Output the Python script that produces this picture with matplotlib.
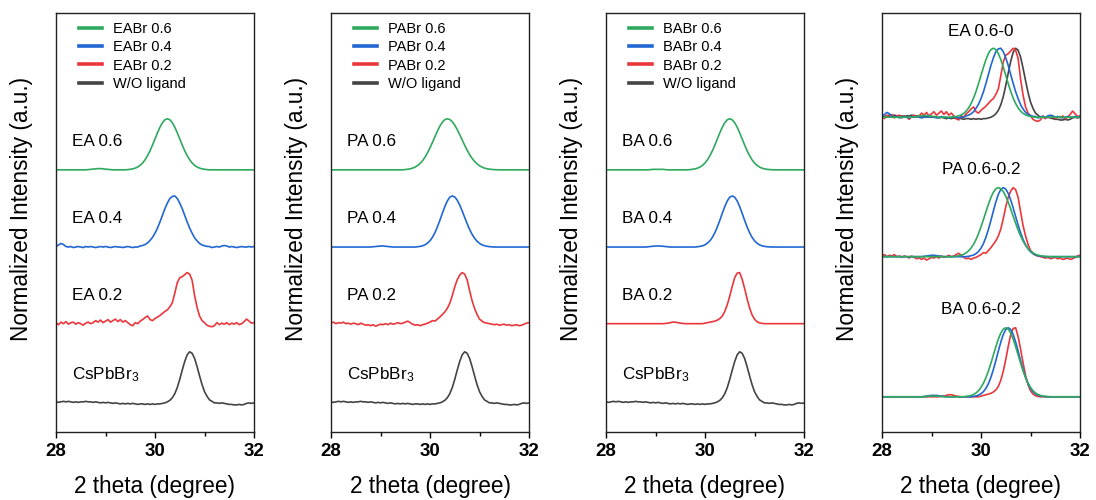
import numpy as np
import matplotlib
matplotlib.use('Agg')
import matplotlib.pyplot as plt

# 2 theta grid (degree), 0.05 step from 28 to 32
two_theta = np.round(np.arange(28.0, 32.0001, 0.05), 2)

# Normalized XRD intensities (baseline 0, peak 1)
cspbbr3 = [0.02, 0.01, 0.02, 0.03, 0.02, 0.03, 0.02, 0.01, 0.02, 0.01,
           0.02, 0.02, 0.03, 0.02, 0.02, 0.01, 0.02, 0.01, 0.00, 0.01,
           0.00, 0.01, 0.00, -0.01, 0.00, -0.01, -0.02, -0.01, -0.02, -0.01,
           -0.02, -0.01, -0.02, -0.03, -0.02, -0.02, -0.03, -0.02, -0.03, -0.02,
           -0.03, -0.02, -0.02, -0.01, 0.00, 0.02, 0.05, 0.10, 0.18, 0.30,
           0.46, 0.64, 0.81, 0.94, 1.00, 0.97, 0.87, 0.71, 0.53, 0.36,
           0.22, 0.13, 0.06, 0.03, 0.00, 0.00, -0.01, 0.00, -0.01, -0.02,
           -0.03, -0.03, -0.04, -0.04, -0.03, -0.04, -0.03, -0.01, 0.00, -0.01, 0.00]

ea_02 = [0.02, -0.02, 0.03, 0.00, 0.04, -0.01, 0.02, 0.03, -0.01, 0.02,
         0.00, -0.03, 0.01, 0.03, 0.00, 0.02, 0.06, 0.03, 0.07, 0.02,
         0.05, 0.08, 0.03, 0.06, 0.09, 0.04, 0.08, 0.03, 0.06, 0.02,
         -0.02, -0.04, 0.02, 0.00, 0.05, 0.08, 0.12, 0.15, 0.08, 0.06,
         0.10, 0.13, 0.16, 0.20, 0.24, 0.27, 0.33, 0.41, 0.60, 0.80,
         0.90, 0.92, 0.96, 1.00, 0.97, 0.85, 0.55, 0.32, 0.15, 0.06,
         0.02, -0.03, -0.05, -0.06, -0.04, 0.02, -0.02, 0.01, -0.01, 0.02,
         -0.02, 0.01, -0.01, 0.02, -0.02, 0.00, 0.04, 0.09, 0.05, 0.01, 0.02]

ea_04 = [0.01, 0.04, 0.07, 0.05, 0.01, 0.00, 0.01, -0.01, 0.00, 0.01,
         0.00, -0.01, 0.01, 0.00, 0.01, 0.00, -0.01, 0.00, 0.01, 0.00,
         0.01, 0.00, -0.01, 0.00, 0.01, 0.00, 0.00, -0.01, 0.00, 0.01,
         0.00, -0.01, 0.00, 0.00, 0.02, 0.03, 0.05, 0.08, 0.13, 0.19,
         0.27, 0.37, 0.49, 0.62, 0.75, 0.86, 0.95, 0.99, 1.00, 0.95,
         0.86, 0.75, 0.62, 0.49, 0.37, 0.27, 0.18, 0.12, 0.07, 0.04,
         0.025, 0.013, 0.01, -0.01, 0.00, 0.01, 0.00, 0.02, 0.03, 0.02,
         0.00, 0.01, 0.00, -0.01, 0.00, 0.01, 0.00, 0.00, 0.01, 0.00, 0.01]

ea_06 = [0, 0, 0, 0, 0, 0, 0, 0, 0, 0,
         0, 0, 0, 0.005, 0.01, 0.015, 0.02, 0.025, 0.025, 0.02,
         0.015, 0.01, 0.005, 0, 0, 0, 0, 0, 0, 0.006,
         0.011, 0.020, 0.034, 0.056, 0.089, 0.135, 0.198, 0.278, 0.375, 0.487,
         0.607, 0.726, 0.835, 0.923, 0.980, 1.0, 0.980, 0.923, 0.835, 0.726,
         0.607, 0.487, 0.375, 0.278, 0.198, 0.135, 0.089, 0.056, 0.034, 0.020,
         0.011, 0.006, 0, 0, 0, 0, 0, 0, 0, 0,
         0, 0, 0, 0, 0, 0, 0, 0, 0, 0, 0]

pa_02 = [0.01, 0.03, 0.00, 0.02, 0.01, 0.03, 0.00, 0.01, -0.01, 0.01,
         0.00, -0.02, 0.01, -0.01, -0.03, -0.02, -0.04, -0.02, -0.05, -0.03,
         -0.01, -0.02, 0.00, -0.02, 0.01, -0.01, 0.00, 0.02, 0.00, 0.01,
         0.03, 0.05, 0.02, -0.01, -0.03, -0.02, -0.04, -0.02, -0.01, 0.01,
         0.03, 0.06, 0.05, 0.09, 0.13, 0.18, 0.23, 0.30, 0.40, 0.55,
         0.72, 0.86, 0.95, 1.00, 0.97, 0.86, 0.65, 0.45, 0.30, 0.18,
         0.09, 0.05, 0.02, 0.01, 0.00, -0.01, -0.02, -0.01, -0.03, -0.02,
         -0.01, -0.03, -0.02, -0.04, -0.03, -0.02, -0.04, -0.03, -0.01, 0.01, 0.02]

pa_04 = [0, 0, 0, 0, 0, 0, 0, 0, 0, 0,
         0, 0, 0, 0, 0, 0, 0, 0.005, 0.01, 0.015,
         0.02, 0.02, 0.015, 0.01, 0.005, 0, 0, 0, 0, 0,
         0, 0, 0, 0, 0, 0.006, 0.013, 0.024, 0.044, 0.076,
         0.123, 0.191, 0.282, 0.395, 0.524, 0.662, 0.793, 0.902, 0.975, 1.0,
         0.979, 0.917, 0.822, 0.707, 0.581, 0.458, 0.345, 0.249, 0.172, 0.114,
         0.072, 0.044, 0.026, 0.014, 0.008, 0.003, 0, 0, 0, 0,
         0, 0, 0, 0, 0, 0, 0, 0, 0, 0, 0]

pa_06 = [0, 0, 0, 0, 0, 0, 0, 0, 0, 0,
         0, 0, 0, 0, 0, 0, 0, 0, 0, 0,
         0, 0, 0, 0, 0, 0, 0, 0, 0, 0,
         0.007, 0.012, 0.021, 0.035, 0.055, 0.085, 0.126, 0.180, 0.249, 0.334,
         0.432, 0.539, 0.651, 0.760, 0.857, 0.934, 0.983, 1.0, 0.985, 0.942,
         0.875, 0.788, 0.690, 0.586, 0.483, 0.386, 0.300, 0.226, 0.166, 0.118,
         0.081, 0.054, 0.035, 0.022, 0.014, 0.008, 0.005, 0.002, 0, 0,
         0, 0, 0, 0, 0, 0, 0, 0, 0, 0, 0]

ba_02 = [0, 0, 0, 0, 0, 0, 0, 0, 0, 0,
         0, 0, 0, 0, 0, 0, 0, 0, 0, 0,
         0, 0, 0, 0, 0.005, 0.01, 0.02, 0.03, 0.03, 0.02,
         0.01, 0.005, 0, 0, 0, 0, 0, 0, 0, 0,
         0.01, 0.02, 0.03, 0.04, 0.05, 0.07, 0.10, 0.15, 0.24, 0.37,
         0.54, 0.73, 0.90, 0.99, 1.0, 0.87, 0.69, 0.49, 0.31, 0.175,
         0.089, 0.04, 0.016, 0.006, 0, 0, 0, 0, 0, 0,
         0, 0, 0, 0, 0, 0, 0, 0, 0, 0, 0]

ba_04 = [0, 0, 0, 0, 0, 0, 0, 0, 0, 0,
         0, 0, 0, 0, 0, 0, 0, 0.005, 0.01, 0.015,
         0.02, 0.02, 0.02, 0.015, 0.01, 0.005, 0, 0, 0, 0,
         0, 0, 0, 0, 0, 0, 0, 0.006, 0.013, 0.024,
         0.044, 0.076, 0.123, 0.191, 0.282, 0.395, 0.524, 0.662, 0.793, 0.902,
         0.975, 1.0, 0.975, 0.902, 0.793, 0.662, 0.524, 0.395, 0.282, 0.191,
         0.123, 0.076, 0.044, 0.024, 0.013, 0.006, 0.003, 0, 0, 0,
         0, 0, 0, 0, 0, 0, 0, 0, 0, 0, 0]

ba_06 = [0, 0, 0, 0, 0, 0, 0, 0, 0, 0,
         0, 0, 0, 0, 0, 0, 0, 0, 0.005, 0.01,
         0.01, 0.01, 0.01, 0.01, 0.005, 0, 0, 0, 0, 0,
         0, 0, 0, 0, 0.006, 0.011, 0.020, 0.034, 0.056, 0.089,
         0.135, 0.198, 0.278, 0.375, 0.487, 0.607, 0.726, 0.835, 0.923, 0.980,
         1.0, 0.980, 0.923, 0.835, 0.726, 0.607, 0.487, 0.375, 0.278, 0.198,
         0.135, 0.089, 0.056, 0.034, 0.020, 0.011, 0.006, 0.003, 0, 0,
         0, 0, 0, 0, 0, 0, 0, 0, 0, 0, 0]

ligands = ['EA', 'PA', 'BA']
series = {'EA': [ea_06, ea_04, ea_02], 'PA': [pa_06, pa_04, pa_02], 'BA': [ba_06, ba_04, ba_02]}
ratios = ['0.6', '0.4', '0.2']
group_titles = ['EA 0.6-0', 'PA 0.6-0.2', 'BA 0.6-0.2']

GREEN, BLUE, RED, GRAY = '#2ea95e', '#2167d3', '#ea373c', '#444444'

plt.rcParams['font.family'] = ['Liberation Sans', 'DejaVu Sans']
plt.rcParams['mathtext.fontset'] = 'custom'
plt.rcParams['mathtext.rm'] = 'Liberation Sans'
plt.rcParams['mathtext.default'] = 'regular'


def style_axis(ax, ymax):
    """common frame, ticks and labels of every panel"""
    ax.set_xlim(28, 32)
    ax.set_ylim(0, ymax)
    ax.set_xticks([28, 30, 32])
    ax.set_xticks([29, 31], minor=True)
    ax.set_yticks([])
    ax.tick_params(axis='x', which='major', direction='out', length=4, width=1, pad=4, labelsize=13.5)
    ax.tick_params(axis='x', which='minor', direction='out', length=3, width=1)
    for lab in ax.get_xticklabels():
        lab.set_fontweight('bold')
    for sp in ax.spines.values():
        sp.set_linewidth(1.0)
        sp.set_color('#222222')
    ax.set_xlabel('2 theta (degree)', fontsize=16.3, va='center')
    ax.xaxis.set_label_coords(0.5, -0.129)
    ax.set_ylabel('Normalized Intensity (a.u.)', fontsize=16.3, va='center')
    ax.yaxis.set_label_coords(-0.172, 0.532)


def plot_ligand_panel(ax, lig):
    # stacked curves: 0.6 on top, CsPbBr3 at bottom
    offsets = [5.13, 3.62, 2.12]
    colors = [GREEN, BLUE, RED]
    for data, off, c, r in zip(series[lig], offsets, colors, ratios):
        ax.plot(two_theta, np.array(data) + off, color=c, lw=1.2, label=f'{lig}Br {r}')
        ax.text(28.32, off + 0.55, f'{lig} {r}', fontsize=12.3, ha='left', va='center')
    ax.plot(two_theta, np.array(cspbbr3) + 0.57, color=GRAY, lw=1.2, label='W/O ligand')
    ax.text(28.32, 0.57 + 0.56, 'CsPbBr$_3$', fontsize=12.3, ha='left', va='center')
    leg = ax.legend(loc='upper left', bbox_to_anchor=(0.086, 0.993), borderaxespad=0, frameon=False,
                    fontsize=10.5, handlelength=1.6, handletextpad=0.75, labelspacing=0.3)
    for h in leg.get_lines():
        h.set_linewidth(2.6)
    style_axis(ax, 8.2)


def plot_compare_panel(ax):
    offsets = [4.56, 2.54, 0.51]
    title_y = [5.80, 3.81, 1.77]
    for lig, off, ty, title in zip(ligands, offsets, title_y, group_titles):
        if lig == 'EA':
            ax.plot(two_theta, np.array(cspbbr3) + off, color=GRAY, lw=1.2)
        for data, c in zip(series[lig][::-1], [RED, BLUE, GREEN]):
            ax.plot(two_theta, np.array(data) + off, color=c, lw=1.2)
        ax.text(30.0, ty, title, fontsize=12.3, ha='center', va='center')
    style_axis(ax, 6.07)


def main():
    fig = plt.figure(figsize=(10.96, 5.0), dpi=100)
    lefts = [56, 331, 606, 882]
    axes = [fig.add_axes([l / 1096, 68 / 500, 198 / 1096, 419 / 500]) for l in lefts]
    for ax, lig in zip(axes[:3], ligands):
        plot_ligand_panel(ax, lig)
    plot_compare_panel(axes[3])
    fig.savefig('out.png', dpi=100)


if __name__ == "__main__":
    main()
